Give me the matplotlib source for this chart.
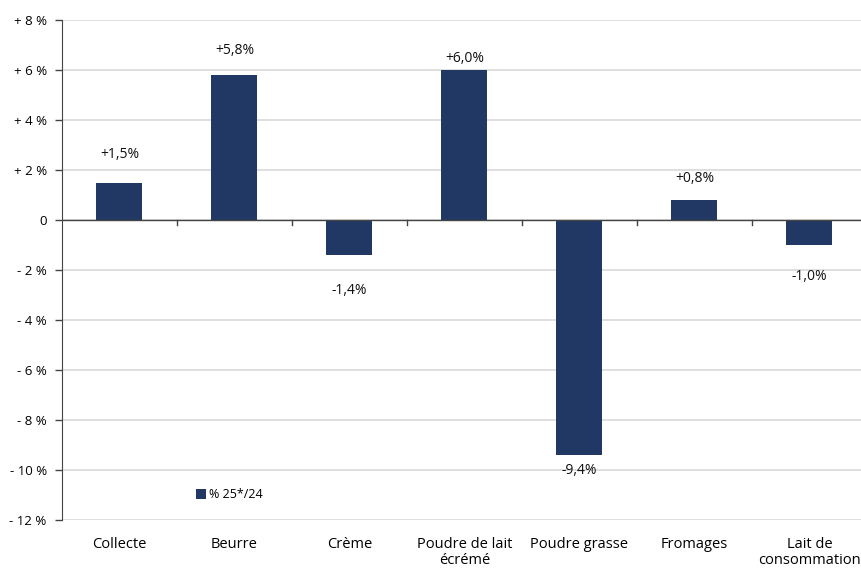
import matplotlib.pyplot as plt

categories = ['Collecte', 'Beurre', 'Crème', 'Poudre de lait\nécrémé', 'Poudre grasse',
              'Fromages', 'Lait de\nconsommation']
values = [1.5, 5.8, -1.4, 6.0, -9.4, 0.8, -1.0]
labels = ['+1,5%', '+5,8%', '-1,4%', '+6,0%', '-9,4%', '+0,8%', '-1,0%']
yticks = [8, 6, 4, 2, 0, -2, -4, -6, -8, -10, -12]
ytick_labels = ['+ 8 %', '+ 6 %', '+ 4 %', '+ 2 %', '0', '- 2 %', '- 4 %', '- 6 %',
                '- 8 %', '- 10 %', '- 12 %']
# label offsets (in % units) as placed in the original
label_offsets = [1.1, 1.0, -1.4, 0.48, -0.6, 0.88, -1.24]

plt.rcParams['font.family'] = ['Open Sans', 'DejaVu Sans']

fig = plt.figure(figsize=(8.62, 5.7), dpi=100)
ax = fig.add_axes([62 / 862, 50 / 570, 805 / 862, 500 / 570])

x = list(range(len(categories)))
bars = ax.bar(x, values, width=0.4, color='#213864', zorder=3, label='% 25*/24')

for i, v in enumerate(values):
    ax.text(i, v + label_offsets[i], labels[i], ha='center', va='center',
            fontsize=10, color='#111111')

ax.set_xlim(-0.5, len(categories) - 0.5)
ax.set_ylim(-12, 8)
ax.set_yticks(yticks)
ax.set_yticklabels(ytick_labels, fontsize=9.5)
ax.yaxis.grid(True, color='#d9d9d9', linewidth=1.2, zorder=0)
ax.set_axisbelow(True)

ax.set_xticks(x)
ax.set_xticklabels(categories, fontsize=10.5, linespacing=1.15)
ax.tick_params(axis='x', length=0, pad=12)
ax.tick_params(axis='y', length=5, color='#444444', width=1, pad=6)

# zero line with category separator ticks
ax.axhline(0, color='#444444', linewidth=1, zorder=4)
for b in range(1, len(categories)):
    ax.plot([b - 0.5, b - 0.5], [0, -0.2], color='#444444', linewidth=1, zorder=4)

for s in ['top', 'right', 'bottom']:
    ax.spines[s].set_visible(False)
ax.spines['left'].set_color('#444444')

ax.legend(loc='center left', bbox_to_anchor=(0.166, 0.05), frameon=False, fontsize=9,
          handlelength=0.8, handleheight=0.8, handletextpad=0.25,
          borderpad=0, borderaxespad=0)

fig.savefig('out.png', dpi=100)
